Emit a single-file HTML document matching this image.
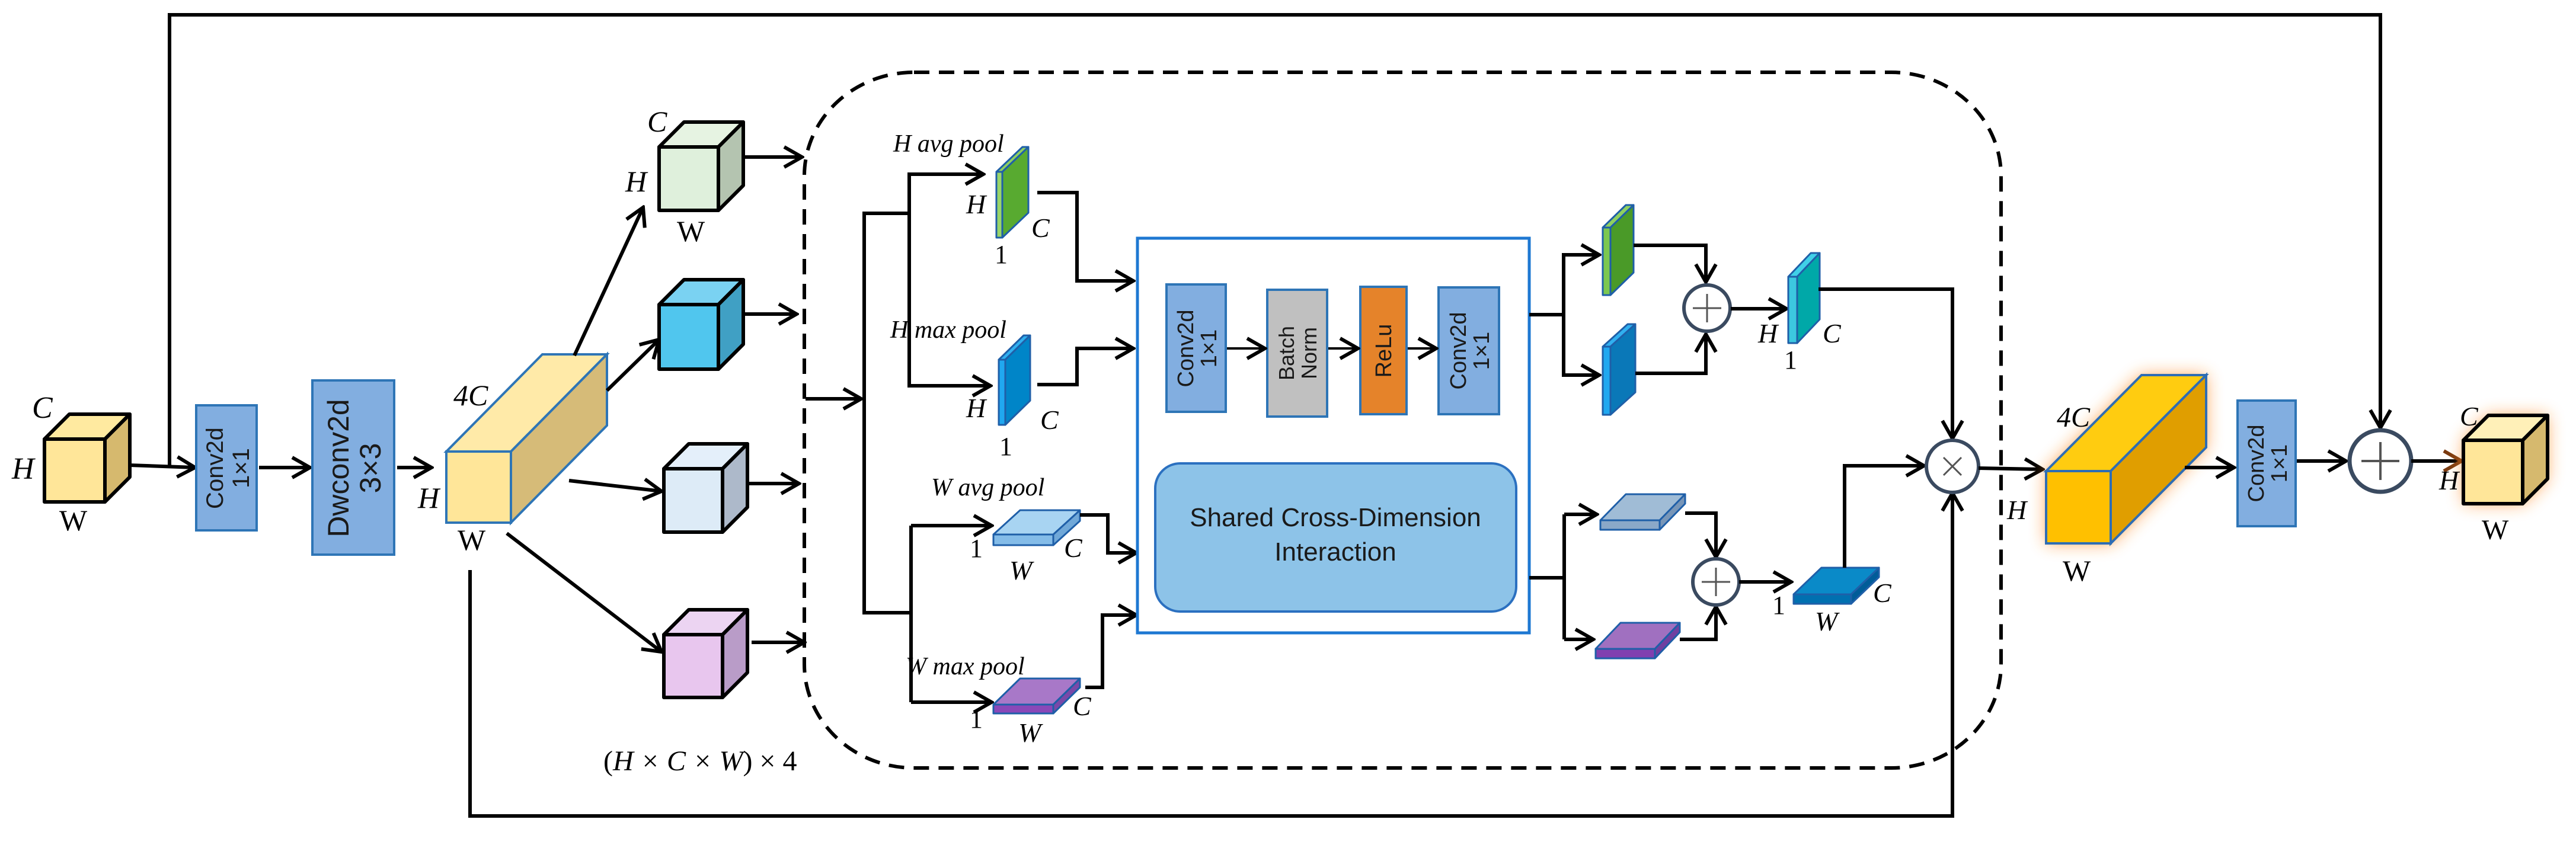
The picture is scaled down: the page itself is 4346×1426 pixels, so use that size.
<!DOCTYPE html>
<html><head><meta charset="utf-8"><style>
html,body{margin:0;padding:0;background:#fff;}
svg{display:block;}
.m{font-family:"Liberation Serif",serif;font-style:italic;fill:#000;}
.u{font-family:"Liberation Serif",serif;fill:#000;}
.s{font-family:"Liberation Sans",sans-serif;fill:#1a1a1a;}
.ln{fill:none;stroke:#000;stroke-width:6;}
.cs{stroke:#000;stroke-width:6;stroke-linejoin:round;}
.sb{stroke:#1f5fa8;stroke-width:3;stroke-linejoin:round;}
</style></head><body>
<svg width="4346" height="1426" viewBox="0 0 4346 1426" xmlns="http://www.w3.org/2000/svg">
<defs>
<marker id="a" markerUnits="userSpaceOnUse" markerWidth="44" markerHeight="44" viewBox="0 0 44 44" refX="40" refY="22" orient="auto">
<path d="M10,5 L40,22 L10,39" fill="none" stroke="#000" stroke-width="6"/></marker>
<marker id="b" markerUnits="userSpaceOnUse" markerWidth="44" markerHeight="44" viewBox="0 0 44 44" refX="40" refY="22" orient="auto">
<path d="M10,5 L40,22 L10,39" fill="none" stroke="#7a3a10" stroke-width="6"/></marker>
<filter id="g" x="-40%" y="-40%" width="180%" height="180%"><feGaussianBlur stdDeviation="14"/></filter>
</defs>

<!-- top skip line -->
<polyline class="ln" points="286,786 286,25 4016,25 4016,722" marker-end="url(#a)"/>
<!-- bottom skip line -->
<polyline class="ln" points="793,962 793,1377 3294,1377 3294,832" marker-end="url(#a)"/>

<!-- dashed container -->
<rect x="1357" y="122" width="2019" height="1174" rx="185" ry="175" fill="none" stroke="#000" stroke-width="6" stroke-dasharray="26,16"/>

<!-- input cube -->
<polygon class="cs" points="75,741 117,699 219,699 177,741" fill="#ffeaa0"/>
<polygon class="cs" points="177,741 219,699 219,805 177,847" fill="#d6b96e"/>
<rect class="cs" x="75" y="741" width="102" height="106" fill="#ffe699"/>
<text class="m" x="54" y="705" font-size="52">C</text>
<text class="m" x="20" y="808" font-size="52">H</text>
<text class="u" x="100" y="895" font-size="50">W</text>

<line class="ln" x1="219" y1="785" x2="329" y2="789" marker-end="url(#a)"/>
<rect x="331" y="684" width="102" height="211" fill="#82aee0" stroke="#2e75b6" stroke-width="4"/>
<text class="s" font-size="40" text-anchor="middle" transform="translate(382,790) rotate(-90)"><tspan x="0" y="-6">Conv2d</tspan><tspan x="0" y="38">1×1</tspan></text>
<line class="ln" x1="437" y1="789" x2="523" y2="789" marker-end="url(#a)"/>
<rect x="527" y="642" width="138" height="294" fill="#82aee0" stroke="#2e75b6" stroke-width="4"/>
<text class="s" font-size="50" text-anchor="middle" transform="translate(596,790) rotate(-90)"><tspan x="0" y="-8">Dwconv2d</tspan><tspan x="0" y="46">3×3</tspan></text>
<line class="ln" x1="670" y1="789" x2="728" y2="789" marker-end="url(#a)"/>

<!-- big cube -->
<polygon points="753,762 915,598 1024,598 862,762" fill="#ffeaa8" stroke="#2e75b6" stroke-width="4"/>
<polygon points="862,762 1024,598 1024,718 862,882" fill="#d6bb78" stroke="#2e75b6" stroke-width="4"/>
<rect x="753" y="762" width="109" height="120" fill="#ffe699" stroke="#2e75b6" stroke-width="4"/>
<text class="m" x="765" y="684" font-size="50">4C</text>
<text class="m" x="705" y="857" font-size="50">H</text>
<text class="u" x="772" y="928" font-size="50">W</text>

<!-- branch arrows -->
<line class="ln" x1="969" y1="600" x2="1085" y2="350" marker-end="url(#a)"/>
<line class="ln" x1="1024" y1="659" x2="1112" y2="573" marker-end="url(#a)"/>
<line class="ln" x1="960" y1="811" x2="1116" y2="829" marker-end="url(#a)"/>
<line class="ln" x1="855" y1="900" x2="1116" y2="1100" marker-end="url(#a)"/>

<!-- four cubes -->
<polygon class="cs" points="1112,248 1154,206 1254,206 1212,248" fill="#e6f3e2"/>
<polygon class="cs" points="1212,248 1254,206 1254,313 1212,355" fill="#b4c4b0"/>
<rect class="cs" x="1112" y="248" width="100" height="107" fill="#dff0dc"/>
<text class="m" x="1092" y="222" font-size="50">C</text>
<text class="m" x="1055" y="323" font-size="50">H</text>
<text class="u" x="1142" y="407" font-size="50">W</text>

<polygon class="cs" points="1112,514 1154,472 1254,472 1212,514" fill="#7ad2f2"/>
<polygon class="cs" points="1212,514 1254,472 1254,581 1212,623" fill="#40a0c4"/>
<rect class="cs" x="1112" y="514" width="100" height="109" fill="#50c6ee"/>

<polygon class="cs" points="1120,791 1162,749 1261,749 1219,791" fill="#e4effa"/>
<polygon class="cs" points="1219,791 1261,749 1261,856 1219,898" fill="#adb9ca"/>
<rect class="cs" x="1120" y="791" width="99" height="107" fill="#ddebf7"/>

<polygon class="cs" points="1120,1071 1162,1029 1261,1029 1219,1071" fill="#ecd4f2"/>
<polygon class="cs" points="1219,1071 1261,1029 1261,1135 1219,1177" fill="#b99cc8"/>
<rect class="cs" x="1120" y="1071" width="99" height="106" fill="#e8c6ee"/>

<text class="m" x="1018" y="1300" font-size="48" font-style="normal"><tspan font-style="normal">(</tspan>H × C × W<tspan font-style="normal">) × 4</tspan></text>

<line class="ln" x1="1254" y1="265" x2="1353" y2="265" marker-end="url(#a)"/>
<line class="ln" x1="1254" y1="530" x2="1344" y2="530" marker-end="url(#a)"/>
<line class="ln" x1="1263" y1="816" x2="1348" y2="816" marker-end="url(#a)"/>
<line class="ln" x1="1268" y1="1084" x2="1357" y2="1084" marker-end="url(#a)"/>

<!-- inner branching -->
<line class="ln" x1="1359" y1="673" x2="1453" y2="673" marker-end="url(#a)"/>
<polyline class="ln" points="1534,360 1458,360 1458,1034 1537,1034"/>
<polyline class="ln" points="1657,294 1534,294 1534,651 1669,651" />
<line class="ln" x1="1534" y1="294" x2="1659" y2="294" marker-end="url(#a)"/>
<line class="ln" x1="1534" y1="651" x2="1671" y2="651" marker-end="url(#a)"/>
<line class="ln" x1="1537" y1="887" x2="1537" y2="1185"/>
<line class="ln" x1="1537" y1="887" x2="1673" y2="887" marker-end="url(#a)"/>
<line class="ln" x1="1537" y1="1185" x2="1673" y2="1185" marker-end="url(#a)"/>

<!-- H avg slab -->
<polygon class="sb" points="1681,290 1725,248 1735,248 1691,290" fill="#8fd060"/>
<polygon class="sb" points="1691,290 1735,248 1735,359 1691,401" fill="#58aa30"/>
<rect class="sb" x="1681" y="290" width="10" height="111" fill="#9ad66a"/>
<text class="m" x="1507" y="256" font-size="42">H avg pool</text>
<text class="m" x="1630" y="360" font-size="46">H</text>
<text class="m" x="1740" y="400" font-size="46">C</text>
<text class="u" x="1678" y="444" font-size="44">1</text>
<polyline class="ln" points="1750,325 1817,325 1817,474 1912,474" marker-end="url(#a)"/>

<!-- H max slab -->
<polygon class="sb" points="1685,607 1727,566 1738,566 1696,607" fill="#30b0f0"/>
<polygon class="sb" points="1696,607 1738,566 1738,676 1696,717" fill="#0085c8"/>
<rect class="sb" x="1685" y="607" width="11" height="110" fill="#20a8f0"/>
<text class="m" x="1502" y="570" font-size="42">H max pool</text>
<text class="m" x="1630" y="704" font-size="46">H</text>
<text class="m" x="1755" y="724" font-size="46">C</text>
<text class="u" x="1686" y="768" font-size="44">1</text>
<polyline class="ln" points="1750,649 1817,649 1817,588 1912,588" marker-end="url(#a)"/>

<!-- W avg slab -->
<polygon class="sb" points="1676,902 1721,861 1822,861 1777,902" fill="#a8d4f2"/>
<polygon class="sb" points="1777,902 1822,861 1822,879 1777,920" fill="#70a8d8"/>
<rect class="sb" x="1676" y="902" width="101" height="18" fill="#84bce8"/>
<text class="m" x="1571" y="836" font-size="42">W avg pool</text>
<text class="u" x="1636" y="940" font-size="44">1</text>
<text class="m" x="1795" y="940" font-size="46">C</text>
<text class="m" x="1703" y="978" font-size="46">W</text>
<polyline class="ln" points="1822,869 1869,869 1869,933 1917,933" marker-end="url(#a)"/>

<!-- W max slab -->
<polygon class="sb" points="1676,1189 1721,1145 1822,1145 1777,1189" fill="#a878c8"/>
<polygon class="sb" points="1777,1189 1822,1145 1822,1160 1777,1204" fill="#7a48a8"/>
<rect class="sb" x="1676" y="1189" width="101" height="15" fill="#8a48b8"/>
<text class="m" x="1528" y="1138" font-size="42">W max pool</text>
<text class="u" x="1636" y="1228" font-size="44">1</text>
<text class="m" x="1810" y="1207" font-size="46">C</text>
<text class="m" x="1718" y="1252" font-size="46">W</text>
<polyline class="ln" points="1831,1160 1860,1160 1860,1038 1917,1038" marker-end="url(#a)"/>

<!-- container box -->
<rect x="1919" y="402" width="661" height="666" fill="#fff" stroke="#1e78d2" stroke-width="5"/>
<rect x="1968" y="480" width="100" height="215" fill="#82aee0" stroke="#2e75b6" stroke-width="4"/>
<text class="s" font-size="38" text-anchor="middle" transform="translate(2018,588) rotate(-90)"><tspan x="0" y="-5">Conv2d</tspan><tspan x="0" y="34">1×1</tspan></text>
<rect x="2138" y="489" width="101" height="214" fill="#c0c0c0" stroke="#2e75b6" stroke-width="4"/>
<text class="s" font-size="36" text-anchor="middle" transform="translate(2188,596) rotate(-90)"><tspan x="0" y="-5">Batch</tspan><tspan x="0" y="33">Norm</tspan></text>
<rect x="2295" y="484" width="78" height="215" fill="#e5832a" stroke="#2e75b6" stroke-width="4"/>
<text class="s" font-size="38" text-anchor="middle" transform="translate(2334,592) rotate(-90)"><tspan x="0" y="13">ReLu</tspan></text>
<rect x="2427" y="485" width="102" height="214" fill="#82aee0" stroke="#2e75b6" stroke-width="4"/>
<text class="s" font-size="38" text-anchor="middle" transform="translate(2478,592) rotate(-90)"><tspan x="0" y="-5">Conv2d</tspan><tspan x="0" y="34">1×1</tspan></text>
<line x1="2070" y1="588" x2="2134" y2="588" stroke="#000" stroke-width="4" marker-end="url(#a)"/>
<line x1="2241" y1="588" x2="2291" y2="588" stroke="#000" stroke-width="4" marker-end="url(#a)"/>
<line x1="2375" y1="588" x2="2423" y2="588" stroke="#000" stroke-width="4" marker-end="url(#a)"/>
<rect x="1949" y="782" width="609" height="250" rx="42" fill="#8dc3e8" stroke="#2b70c0" stroke-width="4"/>
<text class="s" x="2253" y="888" font-size="44" text-anchor="middle">Shared Cross-Dimension</text>
<text class="s" x="2253" y="946" font-size="44" text-anchor="middle">Interaction</text>

<!-- right outputs -->
<polyline class="ln" points="2580,531 2638,531"/>
<polyline class="ln" points="2692,430 2638,430 2638,633 2692,633"/>
<line class="ln" x1="2638" y1="430" x2="2698" y2="430" marker-end="url(#a)"/>
<line class="ln" x1="2638" y1="633" x2="2698" y2="633" marker-end="url(#a)"/>
<polyline class="ln" points="2580,975 2639,975"/>
<line class="ln" x1="2639" y1="868" x2="2639" y2="1079"/>
<line class="ln" x1="2639" y1="868" x2="2694" y2="868" marker-end="url(#a)"/>
<line class="ln" x1="2639" y1="1079" x2="2688" y2="1079" marker-end="url(#a)"/>

<polygon class="sb" points="2704,384 2743,346 2756,346 2717,384" fill="#8fd060"/>
<polygon class="sb" points="2717,384 2756,346 2756,460 2717,498" fill="#4a9a28"/>
<rect class="sb" x="2704" y="384" width="13" height="114" fill="#7cc850"/>
<polygon class="sb" points="2704,585 2746,547 2759,547 2717,585" fill="#30b0f0"/>
<polygon class="sb" points="2717,585 2759,547 2759,662 2717,700" fill="#0a78b8"/>
<rect class="sb" x="2704" y="585" width="13" height="115" fill="#20a8f0"/>

<polyline class="ln" points="2756,414 2878,414 2878,476" marker-end="url(#a)"/>
<polyline class="ln" points="2759,630 2878,630 2878,564" marker-end="url(#a)"/>
<circle cx="2880" cy="520" r="39" fill="#fff" stroke="#3a4a60" stroke-width="6"/>
<path d="M2856,520 H2904 M2880,496 V544" stroke="#555" stroke-width="3"/>
<line class="ln" x1="2920" y1="521" x2="3014" y2="521" marker-end="url(#a)"/>

<polygon class="sb" points="3017,467 3055,427 3070,427 3032,467" fill="#40d0e8"/>
<polygon class="sb" points="3032,467 3070,427 3070,539 3032,579" fill="#00a8a8"/>
<rect class="sb" x="3017" y="467" width="15" height="112" fill="#3cc8e0"/>
<text class="m" x="2966" y="578" font-size="46">H</text>
<text class="m" x="3075" y="578" font-size="46">C</text>
<text class="u" x="3010" y="622" font-size="44">1</text>
<polyline class="ln" points="3068,488 3294,488 3294,740" marker-end="url(#a)"/>

<polygon class="sb" points="2700,878 2743,834 2843,834 2800,878" fill="#a0bcd6"/>
<polygon class="sb" points="2800,878 2843,834 2843,850 2800,894" fill="#7896b8"/>
<rect class="sb" x="2700" y="878" width="100" height="16" fill="#8aa8c8"/>
<polygon class="sb" points="2692,1095 2734,1051 2834,1051 2792,1095" fill="#a070c0"/>
<polygon class="sb" points="2792,1095 2834,1051 2834,1067 2792,1111" fill="#7040a0"/>
<rect class="sb" x="2692" y="1095" width="100" height="16" fill="#8040b0"/>
<polyline class="ln" points="2843,866 2895,866 2895,940" marker-end="url(#a)"/>
<polyline class="ln" points="2834,1079 2895,1079 2895,1024" marker-end="url(#a)"/>
<circle cx="2895" cy="982" r="39" fill="#fff" stroke="#3a4a60" stroke-width="6"/>
<path d="M2871,982 H2919 M2895,958 V1006" stroke="#555" stroke-width="3"/>
<line class="ln" x1="2934" y1="982" x2="3022" y2="982" marker-end="url(#a)"/>

<polygon class="sb" points="3026,1003 3073,958 3170,958 3123,1003" fill="#0a8ac8"/>
<polygon class="sb" points="3123,1003 3170,958 3170,974 3123,1019" fill="#005c98"/>
<rect class="sb" x="3026" y="1003" width="97" height="16" fill="#0070b0"/>
<text class="u" x="2990" y="1036" font-size="44">1</text>
<text class="m" x="3062" y="1064" font-size="46">W</text>
<text class="m" x="3160" y="1016" font-size="46">C</text>
<polyline class="ln" points="3112,958 3112,786 3246,786" marker-end="url(#a)"/>

<circle cx="3294" cy="787" r="44" fill="#fff" stroke="#3a4a60" stroke-width="6"/>
<path d="M3279,772 L3309,802 M3309,772 L3279,802" stroke="#555" stroke-width="3"/>
<line class="ln" x1="3338" y1="790" x2="3446" y2="792" marker-end="url(#a)"/>
<text class="m" x="3386" y="876" font-size="46">H</text>

<!-- orange cube with glow -->
<polygon points="3452,795 3613,633 3722,633 3722,755 3561,917 3452,917" fill="#ff8a20" opacity="0.75" filter="url(#g)"/>
<polygon points="3452,795 3613,633 3722,633 3561,795" fill="#ffcc10" stroke="#2e6db4" stroke-width="4"/>
<polygon points="3561,795 3722,633 3722,755 3561,917" fill="#e09e00" stroke="#2e6db4" stroke-width="4"/>
<rect x="3452" y="795" width="109" height="122" fill="#ffc000" stroke="#2e6db4" stroke-width="4"/>
<text class="m" x="3470" y="720" font-size="48">4C</text>
<text class="u" x="3480" y="980" font-size="50">W</text>

<line class="ln" x1="3686" y1="789" x2="3769" y2="789" marker-end="url(#a)"/>
<rect x="3775" y="676" width="98" height="212" fill="#82aee0" stroke="#2e75b6" stroke-width="4"/>
<text class="s" font-size="38" text-anchor="middle" transform="translate(3824,782) rotate(-90)"><tspan x="0" y="-5">Conv2d</tspan><tspan x="0" y="34">1×1</tspan></text>
<line class="ln" x1="3875" y1="778" x2="3958" y2="778" marker-end="url(#a)"/>
<circle cx="4016" cy="778" r="52" fill="#fff" stroke="#3a4a60" stroke-width="7"/>
<path d="M3984,778 H4048 M4016,746 V810" stroke="#555" stroke-width="4"/>
<line x1="4068" y1="778" x2="4153" y2="778" stroke="#000" stroke-width="6" marker-end="url(#b)"/>

<!-- output cube -->
<polygon points="4156,743 4198,701 4298,701 4298,808 4256,850 4156,850" fill="#ff8a20" opacity="0.7" filter="url(#g)"/>
<polygon class="cs" points="4156,743 4198,701 4298,701 4256,743" fill="#fff0b8"/>
<polygon class="cs" points="4256,743 4298,701 4298,808 4256,850" fill="#d6b96e"/>
<rect class="cs" x="4156" y="743" width="100" height="107" fill="#ffe699"/>
<text class="m" x="4150" y="718" font-size="46">C</text>
<text class="m" x="4115" y="826" font-size="46">H</text>
<text class="u" x="4187" y="910" font-size="48">W</text>
</svg>
</body></html>
